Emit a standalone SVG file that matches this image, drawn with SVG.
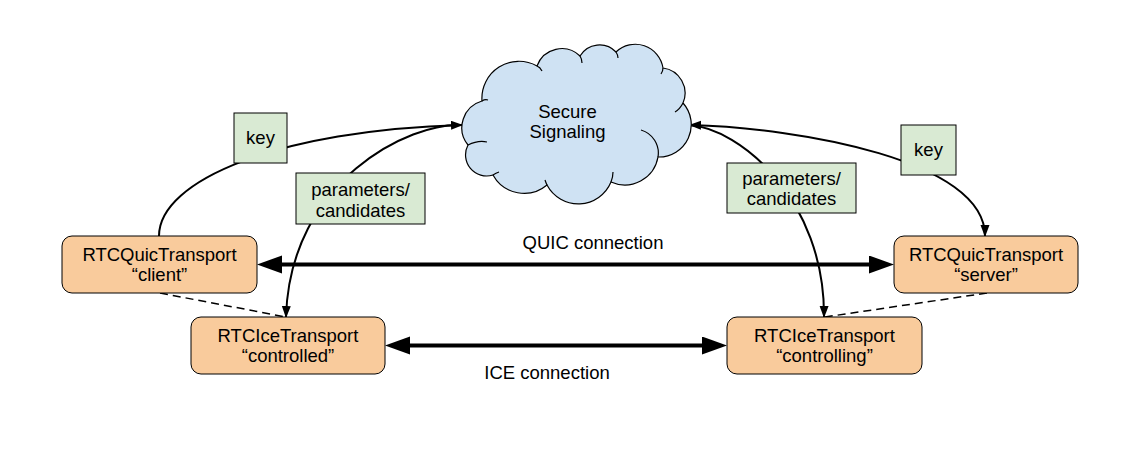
<svg xmlns="http://www.w3.org/2000/svg" width="1145" height="456" viewBox="0 0 1145 456">
<style>
text{font-family:"Liberation Sans",Arial,sans-serif;font-size:18.5px;fill:#000;text-anchor:middle}
.box{fill:#f9cb9c;stroke:#000;stroke-width:1}
.lbl{fill:#d9ead3;stroke:#000;stroke-width:1}
.cloud{fill:#cfe2f3;stroke:#000;stroke-width:1.2}
.hook{fill:none;stroke:#000;stroke-width:1.2}
.thin{fill:none;stroke:#000;stroke-width:2}
.thick{fill:none;stroke:#000;stroke-width:4}
.dash{fill:none;stroke:#000;stroke-width:1.5;stroke-dasharray:8 5}
</style>
<defs>
<marker id="big" markerUnits="userSpaceOnUse" markerWidth="26" markerHeight="20" refX="0" refY="9" orient="auto-start-reverse">
<path d="M0,0 L25,9 L0,18 Z" fill="#000"/>
</marker>
<marker id="sm" markerUnits="userSpaceOnUse" markerWidth="14" markerHeight="10" refX="11" refY="4.5" orient="auto-start-reverse">
<path d="M0,0 L12,4.5 L0,9 Z" fill="#000"/>
</marker>
</defs>
<rect width="1145" height="456" fill="#fff"/>
<g id="connectors">
<path class="thin" d="M159,236 C159,180 280,130 462,125" marker-end="url(#sm)"/>
<path class="thin" d="M462,125 C410,122 290,180 286,317" marker-end="url(#sm)"/>
<path class="thin" d="M690,125 C800,128 985,160 985,236" marker-start="url(#sm)" marker-end="url(#sm)"/>
<path class="thin" d="M689,125 C740,128 825,200 824,317" marker-end="url(#sm)"/>
<path class="thick" d="M282,264.5 L869,264.5" marker-start="url(#big)" marker-end="url(#big)"/>
<path class="thick" d="M410,345.5 L702,345.5" marker-start="url(#big)" marker-end="url(#big)"/>
<path class="dash" d="M160,293 L286,317"/>
<path class="dash" d="M987,293 L825,317"/>
<text x="593" y="249">QUIC connection</text>
<text x="547" y="379">ICE connection</text>
</g>
<g id="signaling">
<path class="cloud" d="M468,145 A27.7,27.7 0 0 1 482,101 A37,37 0 0 1 537,66 A26.3,26.3 0 0 1 580,56 A22.7,22.7 0 0 1 616,52 A28,28 0 0 1 663,68 A25.3,25.3 0 0 1 683,103 A32.4,32.4 0 0 1 658,157 A33.7,33.7 0 0 1 611,182 A35.4,35.4 0 0 1 547,185 A35.5,35.5 0 0 1 493,175 A21.1,21.1 0 0 1 468,145 Z"/>
<path class="hook" d="M468,145 Q478,140 487,142 M482,101 Q485,99 488,100 M537,66 Q540,67 542,71 M580,56 Q582,59 582,63 M616,52 Q618,55 618,58 M663,68 Q663,71 661,74 M683,103 Q680,109 675,112 M641,130 A24,24 0 0 1 658,157 M611,182 Q613,177 613,172 M547,185 Q546,183 545,180 M493,175 Q496,173 499,172"/>
<text x="567.5" y="117.5">Secure</text>
<text x="567.5" y="138">Signaling</text>
</g>
<g id="quic-client">
<rect class="box" x="62" y="236" width="195" height="57" rx="10"/>
<text x="159.5" y="260.5">RTCQuicTransport</text>
<text x="159.5" y="281">“client”</text>
</g>
<g id="ice-controlled">
<rect class="box" x="191" y="317" width="194" height="57" rx="10"/>
<text x="288" y="341.5">RTCIceTransport</text>
<text x="288" y="362">“controlled”</text>
</g>
<g id="quic-server">
<rect class="box" x="894" y="236" width="184" height="57" rx="10"/>
<text x="986" y="260.5">RTCQuicTransport</text>
<text x="986" y="281">“server”</text>
</g>
<g id="ice-controlling">
<rect class="box" x="727" y="317" width="195" height="57" rx="10"/>
<text x="824.5" y="341.5">RTCIceTransport</text>
<text x="824.5" y="362">“controlling”</text>
</g>
<g id="label-key-left">
<rect class="lbl" x="234" y="113" width="53" height="50"/>
<text x="260.5" y="144">key</text>
</g>
<g id="label-params-left">
<rect class="lbl" x="296" y="173" width="129" height="51"/>
<text x="360.5" y="196">parameters/</text>
<text x="360.5" y="216.5">candidates</text>
</g>
<g id="label-key-right">
<rect class="lbl" x="901" y="125" width="55" height="50"/>
<text x="928.5" y="156">key</text>
</g>
<g id="label-params-right">
<rect class="lbl" x="727" y="163" width="129" height="50"/>
<text x="791.5" y="184.5">parameters/</text>
<text x="791.5" y="205">candidates</text>
</g>
</svg>
